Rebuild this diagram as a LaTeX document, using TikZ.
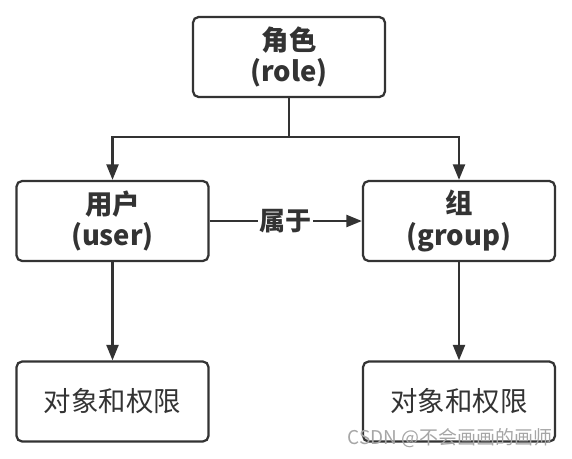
\documentclass[tikz,border=0pt]{standalone}
\usepackage{fontspec}
\setmainfont{Noto Sans CJK SC}
\usepackage{tikz}
\usetikzlibrary{positioning,arrows.meta}
\definecolor{linegray}{HTML}{333333}
\tikzset{
  box/.style={draw=linegray, line width=1.6pt, rounded corners=4pt, minimum width=4.8cm, minimum height=2cm, align=center, font=\fontsize{19.5}{22.5}\selectfont\bfseries, text=linegray},
  leafbox/.style={box, font=\fontsize{19.5}{22.5}\selectfont},
  arr/.style={draw=linegray, line width=1.6pt, -{Triangle[length=11pt,width=8.5pt]}}
}
\begin{document}
\begin{tikzpicture}
\useasboundingbox (0,0) rectangle (14.3,11.45);
% Boxes
\node[box] (role) at (7.225,10.025) {角色\\(role)};
\node[box] (user) at (2.8125,5.925) {用户\\(user)};
\node[box] (group) at (11.475,5.925) {组\\(group)};
\node[leafbox] (objl) at (2.8125,1.4125) {对象和权限};
\node[leafbox] (objr) at (11.475,1.4125) {对象和权限};

% Branch from role
\coordinate (split) at (7.225,8.025);
\draw[draw=linegray, line width=1.6pt] (role.south) -- (split);
\draw[arr] (split) -| (user.north);
\draw[arr] (split) -| (group.north);

% Membership
\draw[arr] (user) -- node[fill=white, inner sep=1pt, font=\fontsize{18.5}{20}\selectfont\bfseries, text=linegray] (belong) {属于} (group);

% Down to objects
\draw[arr] (user) -- (objl);
\draw[arr] (group) -- (objr);

% Watermark
\node[text=gray!70, font=\fontsize{13.5}{15}\selectfont] (mark) at (11.25,0.5) {CSDN @不会画画的画师};
\end{tikzpicture}
\end{document}
